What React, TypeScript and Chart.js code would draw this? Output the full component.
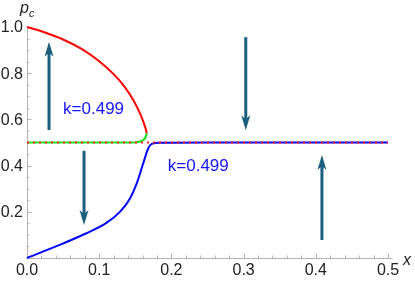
import React, { useEffect, useRef } from "react";
import { Chart, registerables } from "chart.js";

Chart.register(...registerables);

// Upper branch (red)
const redX = [0, 0.025, 0.05, 0.075, 0.1, 0.12, 0.135, 0.147, 0.1565, 0.1615, 0.1645, 0.1658];
const redY = [1.0, 0.976, 0.946, 0.906, 0.852, 0.796, 0.742, 0.685, 0.626, 0.587, 0.558, 0.54];
// Middle branch (green)
const greenX = [0, 0.05, 0.1, 0.145, 0.152, 0.1565, 0.1615, 0.1645, 0.1658];
const greenY = [0.5, 0.5, 0.5, 0.5, 0.501, 0.504, 0.512, 0.525, 0.54];
// Lower branch (blue)
const blueX = [0, 0.04, 0.08, 0.11, 0.129, 0.1427, 0.152, 0.161, 0.168, 0.1727, 0.184, 0.25, 0.35, 0.45, 0.5];
const blueY = [0, 0.05, 0.104, 0.152, 0.201, 0.258, 0.323, 0.41, 0.475, 0.494, 0.499, 0.5, 0.5, 0.5, 0.5];
// Dotted reference line
const refX = [0, 0.5];
const refY = [0.5, 0.5];

// Flow arrows: x position, tail y, head y
const arrowX = [0.0305, 0.079, 0.303, 0.4085];
const arrowFrom = [0.554, 0.464, 0.956, 0.078];
const arrowTo = [0.936, 0.143, 0.553, 0.446];

// Annotations
const labelText = ["k=0.499", "k=0.499"];
const labelX = [0.05, 0.195];
const labelY = [0.645, 0.398];

// Ticks
const xTicks = [0, 0.1, 0.2, 0.3, 0.4, 0.5];
const xTickLabels = ["0.0", "0.1", "0.2", "0.3", "0.4", "0.5"];
const yTicks = [0.2, 0.4, 0.6, 0.8, 1.0];
const yTickLabels = ["0.2", "0.4", "0.6", "0.8", "1.0"];

const pts = (xs: number[], ys: number[]) => xs.map((x, i) => ({ x, y: ys[i] }));

const decorPlugin = {
  id: "decor",
  beforeDatasetsDraw(chart: any) {
    const ctx = chart.ctx;
    const xs = chart.scales.x;
    const ys = chart.scales.y;
    const x0 = xs.getPixelForValue(0);
    const y0 = ys.getPixelForValue(0);
    ctx.save();
    ctx.strokeStyle = "#b4b4b4";
    ctx.lineWidth = 1;
    ctx.beginPath();
    ctx.moveTo(x0, y0 + 0.5);
    ctx.lineTo(xs.getPixelForValue(0.506), y0 + 0.5);
    ctx.moveTo(x0 + 0.5, y0);
    ctx.lineTo(x0 + 0.5, ys.getPixelForValue(1.0));
    ctx.stroke();
    ctx.beginPath();
    for (let i = 0; i <= 25; i++) {
      const v = i * 0.02;
      const px = Math.round(xs.getPixelForValue(v)) + 0.5;
      const len = i % 5 === 0 ? 4.5 : 2.5;
      ctx.moveTo(px, y0);
      ctx.lineTo(px, y0 - len);
    }
    for (let i = 0; i <= 20; i++) {
      const v = i * 0.05;
      const py = Math.round(ys.getPixelForValue(v)) + 0.5;
      const len = i % 4 === 0 ? 4.5 : 2.5;
      ctx.moveTo(x0, py);
      ctx.lineTo(x0 + len, py);
    }
    ctx.stroke();
    ctx.fillStyle = "#222";
    ctx.font = "16px 'Liberation Sans', Arial, sans-serif";
    ctx.textAlign = "center";
    ctx.textBaseline = "middle";
    xTicks.forEach((v, i) => {
      ctx.fillText(xTickLabels[i], xs.getPixelForValue(v), y0 + 13);
    });
    ctx.textAlign = "right";
    yTicks.forEach((v, i) => {
      ctx.fillText(yTickLabels[i], x0 - 4, ys.getPixelForValue(v) + 1);
    });
    ctx.textAlign = "left";
    ctx.textBaseline = "alphabetic";
    ctx.font = "italic 16px 'Liberation Sans', Arial, sans-serif";
    ctx.fillText("p", x0 - 7, ys.getPixelForValue(1.0) - 14);
    ctx.font = "italic 11px 'Liberation Sans', Arial, sans-serif";
    ctx.fillText("c", x0 + 2, ys.getPixelForValue(1.0) - 10);
    ctx.font = "italic 16px 'Liberation Sans', Arial, sans-serif";
    ctx.fillText("x", xs.getPixelForValue(0.5) + 15, y0 + 7);
    ctx.restore();
  },
  afterDatasetsDraw(chart: any) {
    const ctx = chart.ctx;
    const xs = chart.scales.x;
    const ys = chart.scales.y;
    ctx.save();
    const col = "#1a5f7e";
    ctx.strokeStyle = col;
    ctx.fillStyle = col;
    ctx.lineWidth = 3;
    arrowX.forEach((ax, i) => {
      const px = xs.getPixelForValue(ax);
      const pFrom = ys.getPixelForValue(arrowFrom[i]);
      const pTo = ys.getPixelForValue(arrowTo[i]);
      const dir = pTo < pFrom ? -1 : 1;
      const headLen = 15;
      const headW = 4.5;
      ctx.beginPath();
      ctx.moveTo(px, pFrom);
      ctx.lineTo(px, pTo - dir * (headLen - 4));
      ctx.stroke();
      ctx.beginPath();
      ctx.moveTo(px, pTo);
      ctx.lineTo(px - headW, pTo - dir * headLen);
      ctx.lineTo(px, pTo - dir * (headLen - 4));
      ctx.lineTo(px + headW, pTo - dir * headLen);
      ctx.closePath();
      ctx.fill();
    });
    ctx.fillStyle = "#1414ff";
    ctx.font = "17px 'Liberation Sans', Arial, sans-serif";
    ctx.textAlign = "left";
    ctx.textBaseline = "middle";
    labelText.forEach((t, i) => {
      ctx.fillText(t, xs.getPixelForValue(labelX[i]), ys.getPixelForValue(labelY[i]));
    });
    ctx.restore();
  },
};

export default function App() {
  const ref = useRef<HTMLCanvasElement | null>(null);
  useEffect(() => {
    document.body.style.margin = "0";
    const canvas = ref.current;
    if (!canvas) return;
    const chart = new Chart(canvas, {
      type: "scatter",
      data: {
        datasets: [
          {
            data: pts(refX, refY),
            showLine: true,
            borderColor: "#ff2020",
            borderWidth: 2,
            borderDash: [2, 4],
            pointRadius: 0,
            order: 0,
          },
          {
            data: pts(redX, redY),
            showLine: true,
            borderColor: "#ff0000",
            borderWidth: 2,
            pointRadius: 0,
            cubicInterpolationMode: "monotone",
            order: 1,
          },
          {
            data: pts(greenX, greenY),
            showLine: true,
            borderColor: "#22e022",
            borderWidth: 2.2,
            pointRadius: 0,
            cubicInterpolationMode: "monotone",
            order: 2,
          },
          {
            data: pts(blueX, blueY),
            showLine: true,
            borderColor: "#0000ff",
            borderWidth: 2,
            pointRadius: 0,
            cubicInterpolationMode: "monotone",
            order: 3,
          },
        ],
      },
      options: {
        animation: false,
        responsive: false,
        maintainAspectRatio: false,
        layout: { padding: { left: 27, right: 27, top: 27, bottom: 25 } },
        plugins: { legend: { display: false }, tooltip: { enabled: false } },
        scales: {
          x: { type: "linear", min: 0, max: 0.5, display: false },
          y: { type: "linear", min: 0, max: 1.0, display: false },
        },
        clip: false as any,
      },
      plugins: [decorPlugin],
    });
    return () => chart.destroy();
  }, []);
  return (
    <div style={{ width: 415, height: 283 }}>
      <canvas ref={ref} width={415} height={283} style={{ display: "block", width: 415, height: 283 }} />
    </div>
  );
}
